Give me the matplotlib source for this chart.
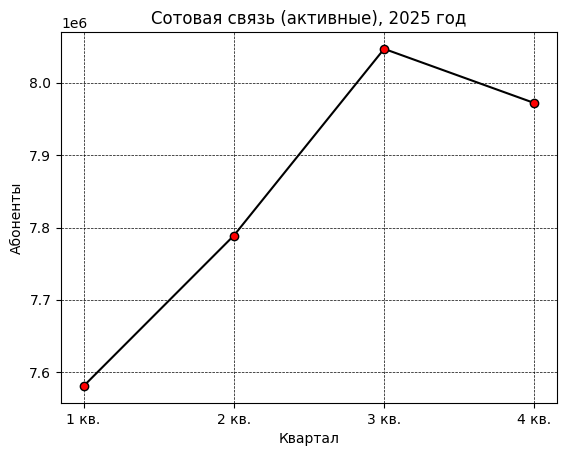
import matplotlib
matplotlib.use("Agg")
import matplotlib.pyplot as plt

quarters = ["1 кв.", "2 кв.", "3 кв.", "4 кв."]
subscribers = [7580600, 7788900, 8047200, 7972200]

fig = plt.figure(figsize=(5.67, 4.55), dpi=100)
ax = fig.add_axes([61 / 567, 1 - 403 / 455, (557 - 61) / 567, (403 - 32) / 455])

ax.plot(quarters, subscribers, color="black", marker="o",
        markerfacecolor="red", markeredgecolor="black", markersize=6)
ax.set_title("Сотовая связь (активные), 2025 год")
ax.set_xlabel("Квартал")
ax.set_ylabel("Абоненты")
ax.grid(True, color="black", linestyle="--", linewidth=0.5)

fig.savefig("out.png", dpi=100)
